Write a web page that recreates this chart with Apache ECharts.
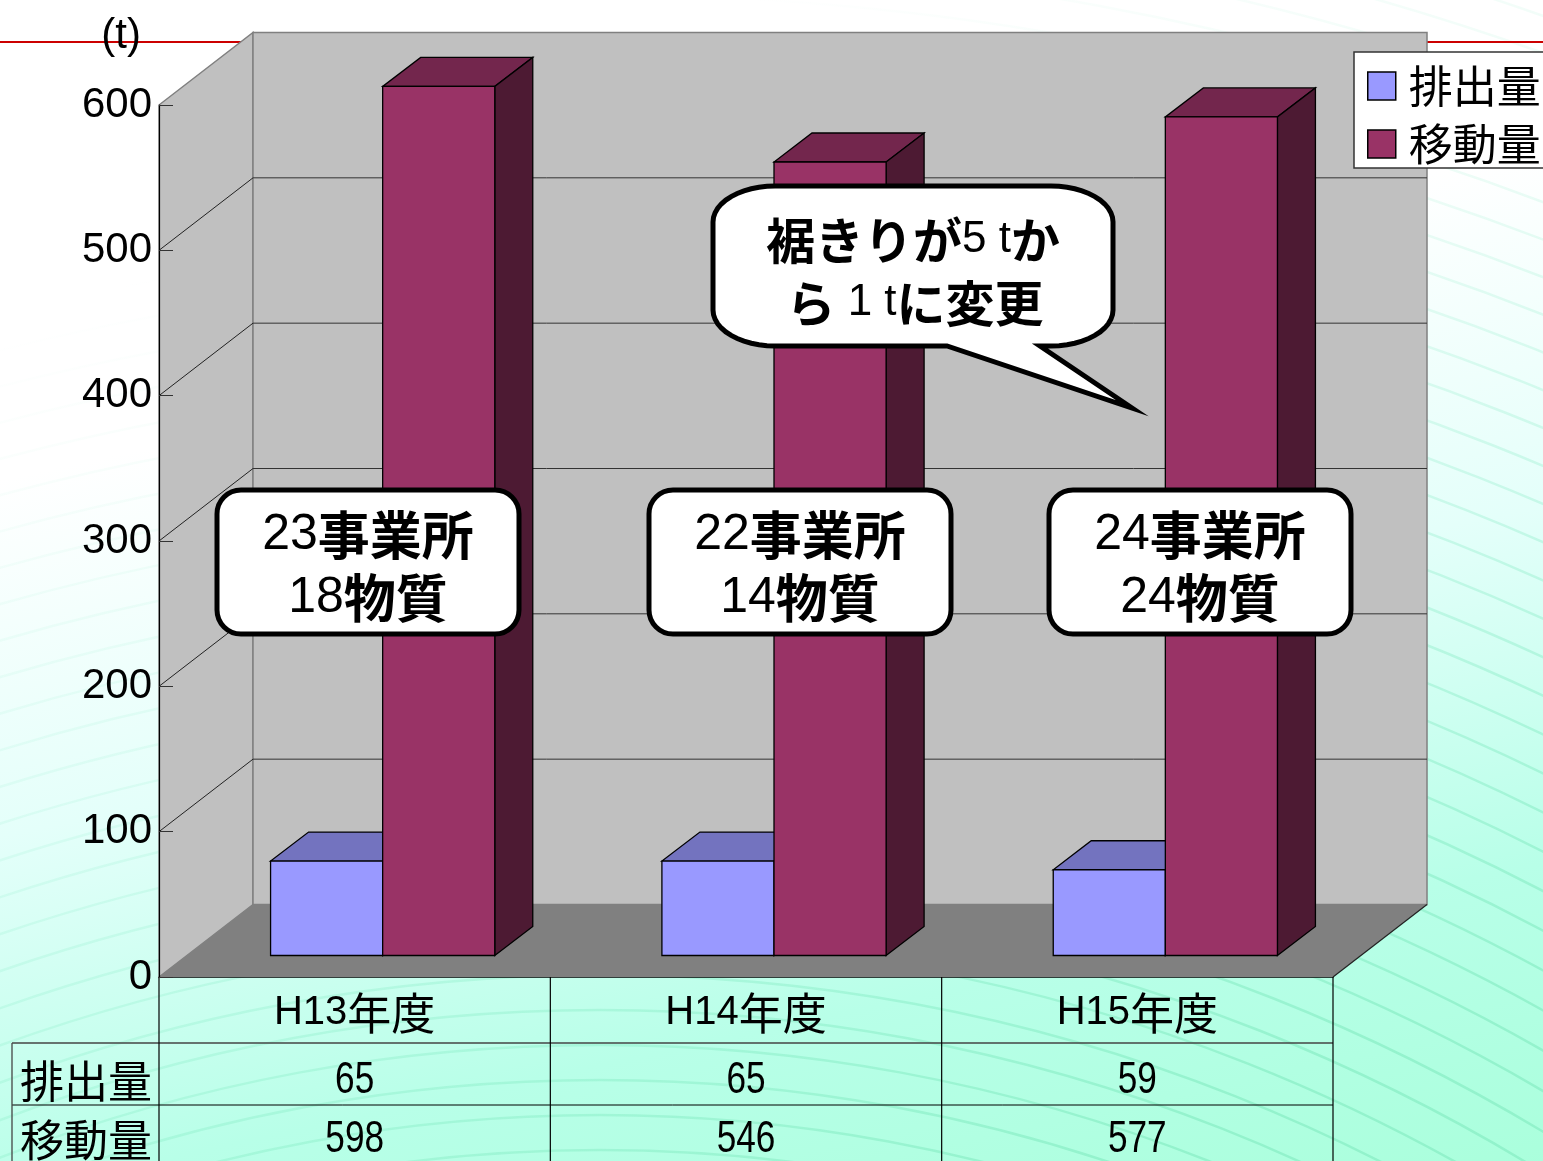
<!DOCTYPE html>
<html>
<head>
<meta charset="utf-8">
<style>
html, body { margin: 0; padding: 0; background: #fff; }
#main { width: 1543px; height: 1161px; }
</style>
<script src="https://cdn.jsdelivr.net/npm/echarts@6/dist/echarts.min.js"></script>
</head>
<body>
<div id="main"></div>
<script>
const categories = ['H13年度', 'H14年度', 'H15年度'];
const emissionName = '排出量';
const transferName = '移動量';
const emissions = [65, 65, 59];
const transfers = [598, 546, 577];
const yTicks = [100, 200, 300, 400, 500, 600];

const LATIN = '"Liberation Sans", Arial, sans-serif';
const CJK = '"Noto Sans CJK JP", sans-serif';

// 3D look: wall depth, bar offset from the front plane, bar depth
const WALL = [94, -72.5];
const BAR_OFF = [28, -21.5];
const BAR_DEPTH = [38, -29];
const BAR_RATIO = 112 / 391;
const ROW_Y = [1081, 1140];

function poly(points, fill, stroke, lineWidth) {
    return {
        type: 'polygon',
        shape: { points: points },
        style: { fill: fill, stroke: stroke || null, lineWidth: lineWidth || 0 }
    };
}

function line(x1, y1, x2, y2, stroke, lineWidth) {
    return {
        type: 'line',
        shape: { x1: x1, y1: y1, x2: x2, y2: y2 },
        style: { stroke: stroke, lineWidth: lineWidth || 1 }
    };
}

// walls, floor and grid lines
function renderFrame(params, api) {
    const band = api.size([1, 0])[0];
    const left = api.coord([0, 0])[0] - band / 2;
    const right = api.coord([categories.length - 1, 0])[0] + band / 2;
    const y0 = api.coord([0, 0])[1];
    const yTop = api.coord([0, yTicks[yTicks.length - 1]])[1];
    const dx = WALL[0], dy = WALL[1];
    const children = [
        poly([[left, y0], [left + dx, y0 + dy], [left + dx, yTop + dy], [left, yTop]], '#c0c0c0', '#808080', 1.5),
        poly([[left + dx, y0 + dy], [right + dx, y0 + dy], [right + dx, yTop + dy], [left + dx, yTop + dy]], '#c0c0c0', '#808080', 1.5),
        poly([[left, y0], [right, y0], [right + dx, y0 + dy], [left + dx, y0 + dy]], '#808080', null, 0),
        line(right, y0, right + dx, y0 + dy, '#222', 1.2)
    ];
    yTicks.slice(0, -1).forEach(function (t) {
        const y = api.coord([0, t])[1];
        children.push(line(left, y, left + dx, y + dy, '#222', 1));
        children.push(line(left + dx, y + dy, right + dx, y + dy, '#333', 1));
    });
    return { type: 'group', children: children };
}

function renderBar(slot, front, topFill, sideFill) {
    return function (params, api) {
        const i = api.value(0), v = api.value(1);
        const base = api.coord([i, 0]);
        const top = api.coord([i, v]);
        const w = api.size([1, 0])[0] * BAR_RATIO;
        const x0 = base[0] + slot * w + BAR_OFF[0];
        const x1 = x0 + w;
        const yb = base[1] + BAR_OFF[1];
        const yt = top[1] + BAR_OFF[1];
        const dx = BAR_DEPTH[0], dy = BAR_DEPTH[1];
        return {
            type: 'group',
            children: [
                poly([[x0, yt], [x1, yt], [x1 + dx, yt + dy], [x0 + dx, yt + dy]], topFill, '#000', 1.3),
                poly([[x1, yb], [x1 + dx, yb + dy], [x1 + dx, yt + dy], [x1, yt]], sideFill, '#000', 1.3),
                poly([[x0, yb], [x1, yb], [x1, yt], [x0, yt]], front, '#000', 1.3)
            ]
        };
    };
}

// data table under the axis
function renderTable(params, api) {
    const i = api.value(0);
    const row = api.value(2);
    return {
        type: 'text',
        x: api.coord([i, 0])[0],
        y: ROW_Y[row],
        scaleX: 0.8,
        style: {
            x: 0, y: 0, text: String(api.value(1)),
            align: 'center', verticalAlign: 'middle',
            font: '44px ' + LATIN, fill: '#000'
        }
    };
}

function renderTableLines(params, api) {
    const band = api.size([1, 0])[0];
    const left = api.coord([0, 0])[0] - band / 2;
    const y0 = api.coord([0, 0])[1];
    const children = [
        line(12, 1043, left + band * 3, 1043, '#444', 1.3),
        line(12, 1105, left + band * 3, 1105, '#000', 1),
        line(12, 1043, 12, 1161, '#444', 1.3)
    ];
    for (let k = 0; k <= categories.length; k++) {
        children.push(line(left + band * k, y0, left + band * k, 1161, '#000', 1.2));
    }
    [emissionName, transferName].forEach(function (name, r) {
        children.push({
            type: 'text',
            style: { x: left - 7, y: ROW_Y[r], text: name, align: 'right', verticalAlign: 'middle', font: '44px ' + CJK, fill: '#000' }
        });
    });
    return { type: 'group', children: children };
}

// faint arcs of the slide background
const rings = [];
for (let r = 1550; r <= 3100; r += 35) {
    rings.push({
        type: 'circle',
        silent: true,
        z: 0,
        shape: { cx: 600, cy: 2700, r: r },
        style: {
            fill: null,
            lineWidth: 2.5,
            stroke: new echarts.graphic.LinearGradient(300, 200, 800, 1300, [
                { offset: 0, color: 'rgba(130,235,195,0)' },
                { offset: 0.4, color: 'rgba(130,235,195,0.15)' },
                { offset: 1, color: 'rgba(120,230,185,0.5)' }
            ], true)
        }
    });
}

const noteRich = {
    d: { font: '50px ' + LATIN, fill: '#000' },
    c: { font: 'bold 52px ' + CJK, fill: '#000' }
};

function noteBox(cx, top, l1a, l1b, l2a, l2b) {
    return [
        {
            type: 'rect', z: 100,
            shape: { x: cx - 151, y: top, width: 302, height: 144, r: 24 },
            style: { fill: '#fff', stroke: '#000', lineWidth: 5 }
        },
        {
            type: 'text', z: 101,
            style: { x: cx, y: top + 45, align: 'center', verticalAlign: 'middle', text: '{d|' + l1a + '}{c|' + l1b + '}', rich: noteRich }
        },
        {
            type: 'text', z: 101,
            style: { x: cx, y: top + 108, align: 'center', verticalAlign: 'middle', text: '{d|' + l2a + '}{c|' + l2b + '}', rich: noteRich }
        }
    ];
}

// quarter ellipse for the speech bubble corners
function corner(cx, cy, rx, ry, a0) {
    const pts = [];
    for (let k = 0; k <= 12; k++) {
        const a = (a0 + k * 7.5) * Math.PI / 180;
        pts.push([cx + rx * Math.cos(a), cy + ry * Math.sin(a)]);
    }
    return pts;
}

const bubblePoints = [].concat(
    corner(775, 222, 62, 36, 180),
    corner(1051, 222, 62, 36, 270),
    corner(1051, 310, 62, 36, 0),
    [[1040, 346], [1132, 408], [947, 346]],
    corner(775, 310, 62, 36, 90)
);

const bubbleRich = {
    c: { font: 'bold 49px ' + CJK, fill: '#000' },
    n: { font: '44px ' + LATIN, fill: '#000' }
};

const bubble = [
    {
        type: 'polygon', z: 100,
        shape: { points: bubblePoints },
        style: { fill: '#fff', stroke: '#000', lineWidth: 5, lineJoin: 'miter', miterLimit: 8 }
    },
    {
        type: 'text', z: 101,
        style: { x: 913, y: 240, align: 'center', verticalAlign: 'middle', text: '{c|裾きりが}{n|5 t}{c|か}', rich: bubbleRich }
    },
    {
        type: 'text', z: 101,
        style: { x: 915, y: 303, align: 'center', verticalAlign: 'middle', text: '{c|ら}{n| 1 t}{c|に変更}', rich: bubbleRich }
    }
];

const chart = echarts.init(document.getElementById('main'));
chart.setOption({
    animation: false,
    backgroundColor: new echarts.graphic.LinearGradient(0, 480, 209, 1455, [
        { offset: 0, color: '#ffffff' },
        { offset: 0.35, color: '#e4fffa' },
        { offset: 0.7, color: '#b8ffe8' },
        { offset: 1, color: '#aaffdc' }
    ], true),
    grid: { left: 159, right: 210, top: 105, bottom: 184 },
    legend: {
        left: 1354, top: 52,
        orient: 'vertical',
        data: [emissionName, transferName],
        icon: 'rect',
        itemWidth: 28, itemHeight: 28, itemGap: 14,
        padding: [12, 30, 2, 13],
        backgroundColor: '#fff',
        borderColor: '#333', borderWidth: 1.5,
        itemStyle: { borderColor: '#000', borderWidth: 1.5 },
        textStyle: { fontFamily: CJK, fontSize: 44, color: '#000', padding: [0, 0, 0, 8], lineHeight: 44 }
    },
    xAxis: {
        type: 'category',
        data: categories,
        axisTick: { show: false },
        axisLine: { lineStyle: { color: '#000', width: 1.5 } },
        axisLabel: {
            margin: 14,
            formatter: function (v) { return '{a|' + v.slice(0, 3) + '}{b|' + v.slice(3) + '}'; },
            rich: {
                a: { fontFamily: LATIN, fontSize: 40, color: '#000' },
                b: { fontFamily: CJK, fontSize: 44, color: '#000' }
            }
        }
    },
    yAxis: {
        type: 'value',
        min: 0, max: 600, interval: 100,
        name: '(t)',
        nameLocation: 'end',
        nameGap: 48,
        nameTextStyle: { fontFamily: LATIN, fontSize: 42, color: '#000', align: 'right', padding: [0, 18, 0, 0] },
        splitLine: { show: false },
        axisLine: { show: true, lineStyle: { color: '#000', width: 1.2 } },
        axisTick: { show: true, inside: true, length: 14, lineStyle: { color: '#333', width: 1 } },
        axisLabel: { fontFamily: LATIN, fontSize: 42, color: '#000', margin: 7, padding: [10, 0, 0, 0] },
        z: 3
    },
    graphic: rings.concat([
        { type: 'line', z: 1, silent: true, shape: { x1: 0, y1: 42, x2: 1543, y2: 42 }, style: { stroke: '#cc0000', lineWidth: 2 } }
    ]).concat(noteBox(368, 490, '23', '事業所', '18', '物質'))
      .concat(noteBox(800, 490, '22', '事業所', '14', '物質'))
      .concat(noteBox(1200, 490, '24', '事業所', '24', '物質'))
      .concat(bubble),
    series: [
        { type: 'custom', z: 1, data: [[0, 0]], renderItem: renderFrame, silent: true },
        { type: 'custom', z: 1, data: [[0, 0]], renderItem: renderTableLines, silent: true },
        {
            type: 'custom', name: emissionName, z: 2,
            itemStyle: { color: '#9999ff' },
            data: emissions.map(function (v, i) { return [i, v]; }),
            renderItem: renderBar(-1, '#9999ff', '#7373bf', '#4d4d80')
        },
        {
            type: 'custom', name: transferName, z: 3,
            itemStyle: { color: '#993366' },
            data: transfers.map(function (v, i) { return [i, v]; }),
            renderItem: renderBar(0, '#993366', '#73264d', '#4d1a33')
        },
        {
            type: 'custom', z: 4, silent: true,
            data: emissions.map(function (v, i) { return [i, v, 0]; })
                .concat(transfers.map(function (v, i) { return [i, v, 1]; })),
            renderItem: renderTable
        }
    ]
});
</script>
</body>
</html>
